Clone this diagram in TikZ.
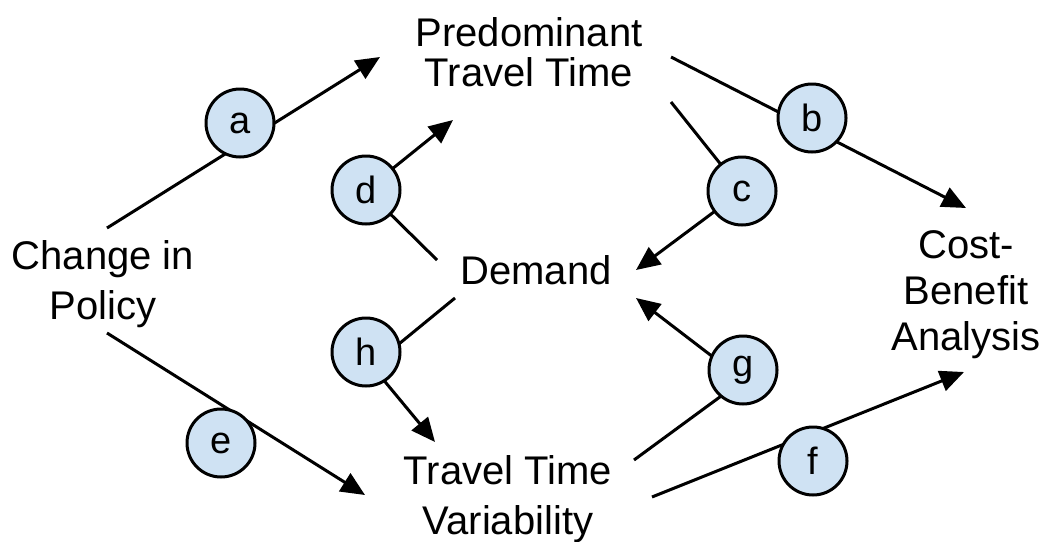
\documentclass[tikz,border=0pt]{standalone}
\usepackage{fontspec}
\setmainfont{Liberation Sans}
\usetikzlibrary{arrows.meta, backgrounds}
\definecolor{lblue}{RGB}{207,226,243}

\begin{document}
\begin{tikzpicture}[x=1pt, y=-1pt,
  lbl/.style={align=center, inner sep=0pt, font=\fontsize{40}{50}\selectfont},
  letter/.style={circle, draw=black, line width=3pt, fill=lblue,
    minimum size=68pt, inner sep=0pt, font=\fontsize{38}{38}\selectfont},
  arr/.style={line width=3pt, -{Triangle[length=24pt,width=21pt]}}]
  \useasboundingbox (0,0) rectangle (1048,541);

  % Labels
  \node[lbl] (policy) at (103,284) {Change in\\Policy};
  \node[lbl, font=\fontsize{40}{40}\selectfont] (ptt) at (529,52) {Predominant\\Travel Time};
  \node[lbl] (demand) at (536,270) {Demand};
  \node[lbl] (ttv) at (508,499) {Travel Time\\Variability};
  \node[lbl, font=\fontsize{40}{46}\selectfont] (cba) at (966,295) {Cost-\\Benefit\\Analysis};

  % Letters
  \node[letter] (a) at (240,123) {a};
  \node[letter] (b) at (812,118) {b};
  \node[letter] (c) at (742,191) {c};
  \node[letter] (d) at (366,190) {d};
  \node[letter] (e) at (221,443) {e};
  \node[letter] (f) at (813,461) {f};
  \node[letter] (g) at (743,370) {g};
  \node[letter] (h) at (366,352) {h};

  % Ends of the links
  \coordinate (a0) at (107,228);  \coordinate (a1) at (380,57);
  \coordinate (b0) at (671,57);   \coordinate (b1) at (966,208);
  \coordinate (c0) at (671,102);  \coordinate (c1) at (636,270);
  \coordinate (d0) at (437,260);  \coordinate (d1) at (453,120);
  \coordinate (e0) at (107,333);  \coordinate (e1) at (365,495);
  \coordinate (f0) at (652,497);  \coordinate (f1) at (964,372);
  \coordinate (g0) at (634,460);  \coordinate (g1) at (636,298);
  \coordinate (h0) at (455,298);  \coordinate (h1) at (435,442);

  % Links
  \begin{scope}[on background layer]
    \draw[arr] (a0) -- (a1);
    \draw[arr] (b0) -- (b1);
    \draw[arr] (c0) -- (c.center) -- (c1);
    \draw[arr] (d0) -- (d.center) -- (d1);
    \draw[arr] (e0) -- (e1);
    \draw[arr] (f0) -- (f1);
    \draw[arr] (g0) -- ([shift={(0,10)}]g.center) -- (g1);
    \draw[arr] (h0) -- ([shift={(6,14)}]h.center) -- (h1);
  \end{scope}
\end{tikzpicture}
\end{document}
